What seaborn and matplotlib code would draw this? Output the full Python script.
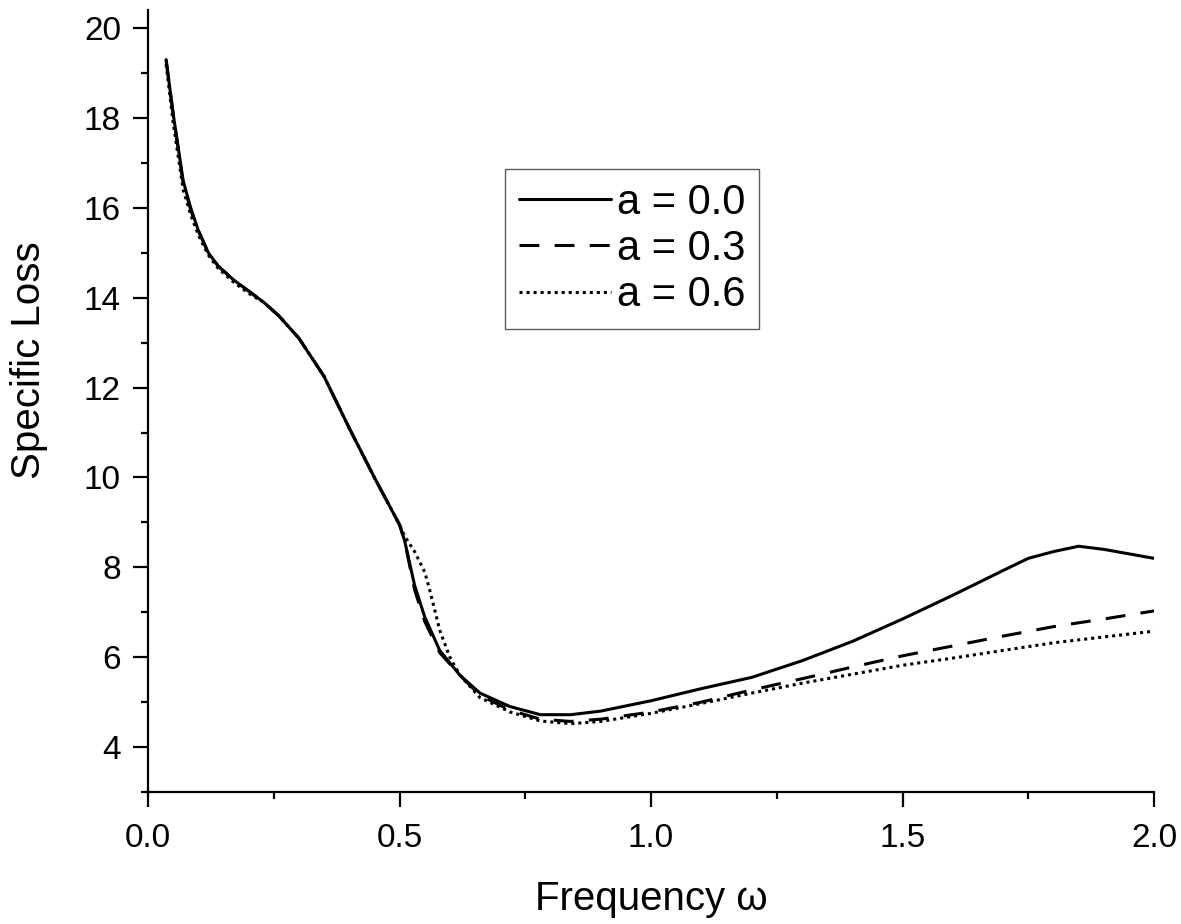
import numpy as np
import pandas as pd
import matplotlib
matplotlib.use("Agg")
import matplotlib.pyplot as plt
import seaborn as sns
from matplotlib.ticker import MultipleLocator, FormatStrFormatter

# values
x_a00 = [0.036, 0.05, 0.07, 0.085, 0.1, 0.12, 0.14, 0.17, 0.2, 0.23, 0.26, 0.3, 0.35, 0.4, 0.45,
         0.5, 0.51, 0.53, 0.55, 0.58, 0.62, 0.66, 0.72, 0.78, 0.84, 0.9, 1.0, 1.1, 1.2, 1.3, 1.4,
         1.5, 1.6, 1.7, 1.75, 1.8, 1.85, 1.9, 2.0]
y_a00 = [19.3, 18.1, 16.6, 16.0, 15.5, 15.0, 14.7, 14.4, 14.15, 13.9, 13.6, 13.1, 12.25, 11.1, 10.0,
         8.95, 8.6, 7.6, 6.9, 6.15, 5.6, 5.2, 4.9, 4.72, 4.72, 4.8, 5.03, 5.3, 5.55, 5.92, 6.35,
         6.85, 7.38, 7.93, 8.2, 8.35, 8.47, 8.4, 8.2]

x_a03 = [0.036, 0.05, 0.07, 0.085, 0.1, 0.12, 0.14, 0.17, 0.2, 0.23, 0.26, 0.3, 0.35, 0.4, 0.45,
         0.5, 0.51, 0.53, 0.55, 0.58, 0.62, 0.66, 0.72, 0.78, 0.84, 0.9, 1.0, 1.1, 1.2, 1.3, 1.4,
         1.5, 1.6, 1.7, 1.8, 1.9, 2.0]
y_a03 = [19.3, 18.1, 16.55, 15.95, 15.5, 15.0, 14.7, 14.4, 14.15, 13.9, 13.6, 13.1, 12.25, 11.1, 10.0,
         8.95, 8.6, 7.5, 6.8, 6.1, 5.6, 5.15, 4.82, 4.62, 4.57, 4.62, 4.78, 5.0, 5.27, 5.52, 5.78,
         6.03, 6.25, 6.47, 6.68, 6.85, 7.03]

x_a06 = [0.036, 0.05, 0.07, 0.085, 0.1, 0.12, 0.14, 0.17, 0.2, 0.23, 0.26, 0.3, 0.35, 0.4, 0.45,
         0.5, 0.51, 0.53, 0.55, 0.56, 0.58, 0.6, 0.62, 0.66, 0.72, 0.78, 0.84, 0.9, 1.0, 1.1, 1.2,
         1.3, 1.4, 1.5, 1.6, 1.7, 1.8, 1.9, 2.0]
y_a06 = [19.2, 17.9, 16.4, 15.85, 15.4, 14.95, 14.65, 14.35, 14.1, 13.9, 13.6, 13.1, 12.25, 11.1, 10.0,
         8.95, 8.7, 8.35, 7.9, 7.5, 6.6, 6.0, 5.6, 5.1, 4.78, 4.58, 4.52, 4.57, 4.75, 4.97, 5.2,
         5.42, 5.62, 5.82, 5.98, 6.15, 6.32, 6.45, 6.58]

labels = ["a = 0.0", "a = 0.3", "a = 0.6"]

df = pd.concat([
    pd.DataFrame({"w": x_a00, "loss": y_a00, "case": labels[0]}),
    pd.DataFrame({"w": x_a03, "loss": y_a03, "case": labels[1]}),
    pd.DataFrame({"w": x_a06, "loss": y_a06, "case": labels[2]}),
], ignore_index=True)

sns.set_style("ticks")
plt.rcParams["font.family"] = ["Liberation Sans", "DejaVu Sans"]
plt.rcParams["text.color"] = "black"
plt.rcParams["axes.labelcolor"] = "black"

fig = plt.figure(figsize=(11.81, 9.24), dpi=100)
ax = fig.add_axes([0.1253, 0.1429, 0.8519, 0.846])

sns.lineplot(data=df, x="w", y="loss", style="case", sort=False, color="black",
             linewidth=2.2, dashes={labels[0]: "", labels[1]: (6.5, 5), labels[2]: (1, 1.3)},
             ax=ax, legend=True)

ax.set_xlim(0, 2.0)
ax.set_ylim(3, 20.4)
ax.xaxis.set_major_locator(MultipleLocator(0.5))
ax.xaxis.set_minor_locator(MultipleLocator(0.25))
ax.yaxis.set_minor_locator(MultipleLocator(1))
ax.set_yticks(np.arange(4, 21, 2))
ax.xaxis.set_major_formatter(FormatStrFormatter("%.1f"))

ax.tick_params(which="major", length=11, width=1.6, labelsize=24, color="black",
               labelcolor="black", pad=8.5)
ax.tick_params(axis="x", which="major", pad=11)
ax.tick_params(which="minor", length=5, width=1.6, color="black")
for s in ["left", "bottom"]:
    ax.spines[s].set_linewidth(1.6)
    ax.spines[s].set_color("black")
sns.despine(ax=ax)

ax.set_xlabel("Frequency ω", fontsize=29)
ax.set_ylabel("Specific Loss", fontsize=29)
ax.xaxis.set_label_coords(0.5, -0.1125)
ax.yaxis.set_label_coords(-0.099, 0.553)

leg = ax.legend(loc="upper left", bbox_to_anchor=(0.355, 0.797), fontsize=30,
                handlelength=2.2, handletextpad=0.15, borderpad=0.33, labelspacing=0.15,
                borderaxespad=0, frameon=True, fancybox=False, edgecolor="#333333")
leg.get_frame().set_linewidth(1.0)

fig.savefig("out.png", dpi=100)
